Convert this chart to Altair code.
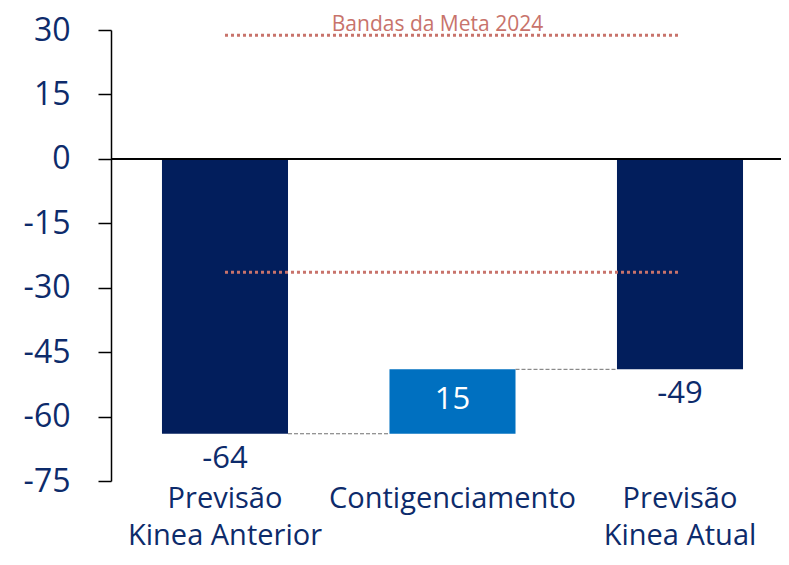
import altair as alt
import pandas as pd

categories = ["Previsão\nKinea Anterior", "Contigenciamento", "Previsão\nKinea Atual"]
bar_start = [0, -64, 0]
bar_end = [-64, -49, -49]
bar_labels = ["-64", "15", "-49"]
bar_kind = ["total", "delta", "total"]

band_values = [28.8, -26.4]
band_title = "Bandas da Meta 2024"

conn_from = [categories[0], categories[1]]
conn_to = [categories[1], categories[2]]
conn_y = [-64, -49]

y_ticks = [30, 15, 0, -15, -30, -45, -60, -75]

NAVY = "#021e5c"
BLUE = "#0070c0"
TXT = "#0d2b6b"
RED = "#c8736b"
FONT = "Open Sans"

bars = pd.DataFrame({"cat": categories, "start": bar_start, "end": bar_end,
                     "label": bar_labels, "kind": bar_kind})
bars["mid"] = (bars["start"] + bars["end"]) / 2
bands = pd.DataFrame({"y": band_values, "a": [categories[0]] * 2, "b": [categories[2]] * 2})
conns = pd.DataFrame({"from": conn_from, "to": conn_to, "y": conn_y})

xscale = alt.Scale(domain=categories, paddingInner=0.446, paddingOuter=0.1955, align=0.573)
yscale = alt.Scale(domain=[-75, 30], nice=False, zero=False)

x_enc = alt.X("cat:N", scale=xscale, sort=categories, title=None,
              axis=alt.Axis(labelAngle=0, domain=False, ticks=False, labelFontSize=29,
                            labelColor=TXT, labelFont=FONT, labelLineHeight=37,
                            labelPadding=3, labelBaseline="top", labelLimit=0,
                            labelOverlap=False,
                            labelExpr="split(datum.label, '\\n')"))

bar_layer = alt.Chart(bars).mark_bar().encode(
    x=x_enc,
    y=alt.Y("start:Q", scale=yscale, title=None,
            axis=alt.Axis(values=y_ticks, grid=False, domainColor="black", domainWidth=1.5,
                          tickColor="black", tickWidth=1.5, tickSize=13,
                          labelFontSize=32, labelColor=TXT, labelFont=FONT,
                          labelPadding=28, labelFlush=False,
                          labelExpr="'' + datum.value")),
    y2="end:Q",
    color=alt.Color("kind:N", scale=alt.Scale(domain=["total", "delta"], range=[NAVY, BLUE]),
                    legend=None),
)

zero = alt.Chart(bars).mark_rule(color="black", strokeWidth=1.8).encode(
    y=alt.datum(0, scale=yscale)
)

conn_layer = alt.Chart(conns).mark_rule(color="#707070", strokeDash=[4, 2], strokeWidth=1).encode(
    x=alt.X("from:N", scale=xscale, sort=categories, bandPosition=1, title=None),
    x2=alt.X2("to:N", bandPosition=0),
    y=alt.Y("y:Q", scale=yscale, title=None),
)

band_layer = alt.Chart(bands).mark_rule(color=RED, strokeDash=[3, 3], strokeWidth=3).encode(
    x=alt.X("a:N", scale=xscale, sort=categories, title=None),
    x2="b:N",
    y=alt.Y("y:Q", scale=yscale, title=None),
)

band_text = alt.Chart(pd.DataFrame({"t": [band_title], "c": [categories[1]]})).mark_text(
    font=FONT, fontSize=21, color=RED, baseline="alphabetic", dx=-15
).encode(
    x=alt.X("c:N", scale=xscale, sort=categories, title=None),
    y=alt.value(1),
    text="t:N",
)

below = alt.Chart(bars).transform_filter("datum.kind == 'total'").mark_text(
    font=FONT, fontSize=31, color=TXT, baseline="middle", dy=25
).encode(
    x=alt.X("cat:N", scale=xscale, sort=categories, title=None),
    y=alt.Y("end:Q", scale=yscale, title=None),
    text="label:N",
)

inside = alt.Chart(bars).transform_filter("datum.kind == 'delta'").mark_text(
    font=FONT, fontSize=31, color="white", baseline="middle", dy=-2
).encode(
    x=alt.X("cat:N", scale=xscale, sort=categories, title=None),
    y=alt.Y("mid:Q", scale=yscale, title=None),
    text="label:N",
)

chart = alt.layer(bar_layer, conn_layer, zero, band_layer, band_text, below, inside).properties(
    width=670, height=451,
    autosize=alt.AutoSizeParams(type="none"),
    padding={"left": 103, "top": 22, "right": 0, "bottom": 72},
).configure_view(stroke=None)

chart.save("out.html", embed_options={"renderer": "svg", "actions": False})
